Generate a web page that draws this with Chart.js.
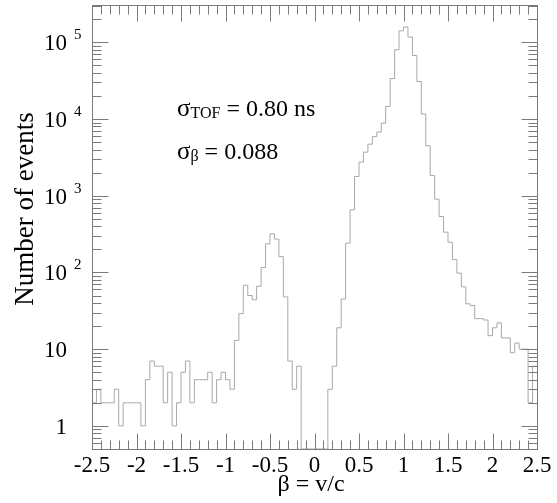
<!DOCTYPE html>
<html><head><meta charset="utf-8">
<style>html,body{margin:0;padding:0;background:#fff;overflow:hidden}#wrap{width:557px;height:503px}</style>
<script src="https://cdn.jsdelivr.net/npm/chart.js@4/dist/chart.umd.min.js"></script>
</head><body>
<div id="wrap"><canvas id="c" width="557" height="503"></canvas></div>
<script>
// ---- data ----
const binLow = -2.5;
const binWidth = 0.05;
const counts = [
  2, 3, 2, 2, 2, 3, 1, 2, 2, 2,
  2, 1, 4, 7, 6, 6, 2, 5, 1, 2,
  5, 7, 2, 4, 4, 4, 5, 2, 4, 5,
  4, 3, 13, 29, 68, 50, 44, 66, 116, 236,
  319, 272, 161, 48, 7, 3, 6, 0, 0, 0,
  0, 0, 0, 3, 6, 19, 45, 241, 655, 1780,
  2740, 3700, 4700, 5900, 6750, 8840, 14560, 33700, 79800, 141000,
  158000, 117000, 67300, 30800, 11600, 4480, 1830, 903, 536, 335,
  248, 147, 98, 65, 39, 37, 25, 25, 24, 15,
  19, 22, 14, 14, 9, 12, 10, 10, 2, 6
];
const xTickLabels = ['-2.5','-2','-1.5','-1','-0.5','0','0.5','1','1.5','2','2.5'];
const yTickValues = [1, 10, 100, 1000, 10000, 100000];
const yTickBases  = ['1', '10', '10', '10', '10', '10'];
const yTickExps   = ['', '', '2', '3', '4', '5'];
const xTitle = 'β = v/c';
const yTitle = 'Number of events';
const noteLines = [
  { sym: 'σ', sub: 'TOF', rest: ' = 0.80 ns' },
  { sym: 'σ', sub: 'β', rest: ' = 0.088' }
];
const xMin = -2.5, xMax = 2.5, yMin = 0.5, yMax = 3.06e5;

// ---- build dataset (step outline through bin edges) ----
const points = counts.map((c, i) => ({ x: binLow + i * binWidth, y: c > 0 ? c : yMin }));
points.push({ x: binLow + counts.length * binWidth, y: counts[counts.length - 1] > 0 ? counts[counts.length - 1] : yMin });

const FONT = '"Liberation Serif", "Times New Roman", serif';

const decor = {
  id: 'decor',
  afterDatasetsDraw(chart) {
    const { ctx, chartArea: a, scales: { x, y } } = chart;
    ctx.save();
    ctx.strokeStyle = '#7a7a7a';
    ctx.lineWidth = 1;
    const L = Math.round(a.left) + 0.5, R = Math.round(a.right) + 0.5;
    const T = Math.round(a.top) + 0.5, B = Math.round(a.bottom) + 0.5;
    ctx.strokeRect(L, T, R - L, B - T);
    ctx.beginPath();
    // x ticks (bottom and top, pointing inward)
    for (let k = Math.round(xMin * 10); k <= Math.round(xMax * 10); k++) {
      const px = Math.round(x.getPixelForValue(k / 10)) + 0.5;
      const len = (k % 5 === 0) ? 16 : 9;
      ctx.moveTo(px, B); ctx.lineTo(px, B - len);
      ctx.moveTo(px, T); ctx.lineTo(px, T + len);
    }
    // y ticks (left and right, pointing inward)
    for (let d = -1; d <= 5; d++) {
      for (let m = 1; m <= 9; m++) {
        const v = m * Math.pow(10, d);
        if (v < yMin || v > yMax) continue;
        const py = Math.round(y.getPixelForValue(v)) + 0.5;
        const len = (m === 1) ? 16 : 9;
        ctx.moveTo(L, py); ctx.lineTo(L + len, py);
        ctx.moveTo(R, py); ctx.lineTo(R - len, py);
      }
    }
    ctx.stroke();

    ctx.fillStyle = '#000';
    // x tick labels
    ctx.font = '23px ' + FONT;
    ctx.textAlign = 'center';
    ctx.textBaseline = 'alphabetic';
    xTickLabels.forEach(t => {
      ctx.fillText(t, x.getPixelForValue(parseFloat(t)), a.bottom + 23);
    });
    // y tick labels
    yTickValues.forEach((v, i) => {
      const py = y.getPixelForValue(v);
      ctx.font = '23px ' + FONT;
      ctx.textAlign = 'right';
      ctx.fillText(yTickBases[i], a.left - 25, py + 8);
      if (yTickExps[i]) {
        ctx.font = '15px ' + FONT;
        ctx.textAlign = 'left';
        ctx.fillText(yTickExps[i], a.left - 18, py - 3);
      }
    });
    // axis titles
    ctx.font = '24px ' + FONT;
    ctx.textAlign = 'center';
    ctx.fillText(xTitle, 311, a.bottom + 42);
    ctx.save();
    ctx.translate(33, 209);
    ctx.rotate(-Math.PI / 2);
    ctx.font = '27px ' + FONT;
    ctx.fillText(yTitle, 0, 0);
    ctx.restore();
    // annotations
    const nx = 177, ny = [116, 159];
    noteLines.forEach((n, i) => {
      let cx = nx;
      ctx.textAlign = 'left';
      ctx.font = '25px ' + FONT;
      ctx.fillText(n.sym, cx, ny[i]);
      cx += ctx.measureText(n.sym).width;
      ctx.font = '16px ' + FONT;
      ctx.fillText(n.sub, cx, ny[i] + 2);
      cx += ctx.measureText(n.sub).width;
      ctx.font = '24px ' + FONT;
      ctx.fillText(n.rest, cx, ny[i]);
    });
    ctx.restore();
  }
};

new Chart(document.getElementById('c'), {
  type: 'line',
  data: {
    datasets: [{
      data: points,
      stepped: true,
      borderColor: '#a8a8a8',
      borderWidth: 1,
      pointRadius: 0,
      fill: false,
      tension: 0
    }]
  },
  options: {
    responsive: false,
    animation: false,
    devicePixelRatio: 1,
    layout: { padding: { left: 92, right: 20, top: 5, bottom: 54 } },
    plugins: { legend: { display: false }, tooltip: { enabled: false } },
    scales: {
      x: { type: 'linear', min: xMin, max: xMax, display: false },
      y: { type: 'logarithmic', min: yMin, max: yMax, display: false }
    }
  },
  plugins: [decor]
});
</script>
</body></html>
